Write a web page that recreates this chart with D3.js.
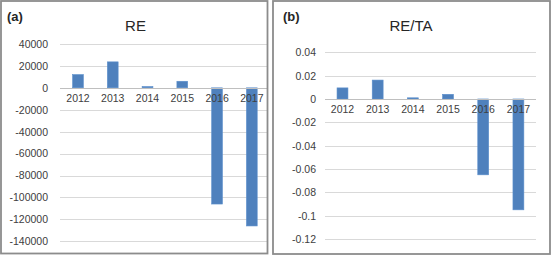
<!DOCTYPE html>
<html><head><meta charset="utf-8">
<script src="https://cdn.jsdelivr.net/npm/d3@7"></script>
<style>
html,body{margin:0;padding:0;background:#fff;}
svg{display:block;font-family:"Liberation Sans",Arial,sans-serif;}
</style></head>
<body><svg id="c" width="552" height="256"></svg>
<script>
const years = ["2012","2013","2014","2015","2016","2017"];
const reValues = [12100, 23700, 1200, 6000, -106000, -126000];
const reTicks = [40000, 20000, 0, -20000, -40000, -60000, -80000, -100000, -120000, -140000];
const retaValues = [0.0095, 0.0162, 0.001, 0.004, -0.065, -0.095];
const retaTicks = [0.04, 0.02, 0, -0.02, -0.04, -0.06, -0.08, -0.1, -0.12];

const svg = d3.select("#c");
const barColor = "#4f81bd";

function panel(cfg){
  const g = svg.append("g");
  const x = d3.scaleBand().domain(years).range(cfg.xr).paddingInner(0.69).paddingOuter(0.345);
  const y = d3.scaleLinear().domain(cfg.dom).range(cfg.yr);
  // gridlines
  g.append("g").selectAll("line").data(cfg.ticks.filter(t=>t!==0)).join("line")
    .attr("x1", cfg.gx[0]).attr("x2", cfg.gx[1])
    .attr("y1", d=>Math.round(y(d))+0.5).attr("y2", d=>Math.round(y(d))+0.5)
    .attr("stroke", "#d9d9d9").attr("stroke-width", 1);
  // y tick labels
  const yAxis = d3.axisLeft(y).tickValues(cfg.ticks).tickSize(0).tickPadding(0)
    .tickFormat(d=>String(+d.toFixed(4)));
  const ya = g.append("g").attr("transform", `translate(${cfg.labelX},0)`).call(yAxis);
  ya.select(".domain").remove();
  ya.selectAll("text").attr("font-size", 10.5).attr("fill", "#404040")
    .attr("font-family", "Liberation Sans, Arial, sans-serif");
  // bars
  g.append("g").selectAll("rect").data(cfg.values).join("rect")
    .attr("x", (d,i)=>x(years[i]))
    .attr("width", x.bandwidth())
    .attr("y", d=>y(Math.max(0,d)))
    .attr("height", d=>Math.abs(y(d)-y(0)))
    .attr("fill", barColor).attr("stroke", "#5b8fcc").attr("stroke-width", 0.6);
  // zero line
  g.append("line").attr("x1", cfg.gx[0]).attr("x2", cfg.gx[1])
    .attr("y1", Math.round(y(0))+0.5).attr("y2", Math.round(y(0))+0.5)
    .attr("stroke", "#bfbfbf").attr("stroke-width", 1);
  // category labels
  const xAxis = d3.axisBottom(x).tickSize(0).tickPadding(0);
  const xa = g.append("g").attr("transform", `translate(0,${y(0)+cfg.catOff})`).call(xAxis);
  xa.select(".domain").remove();
  xa.selectAll("text").attr("font-size", 10.5).attr("fill", "#404040")
    .attr("font-family", "Liberation Sans, Arial, sans-serif");
  // title
  g.append("text").attr("x", cfg.titleX).attr("y", 31).attr("text-anchor","middle")
    .attr("font-size", 15).attr("fill", "#262626").text(cfg.title);
  g.append("text").attr("x", cfg.tagX).attr("y", 21)
    .attr("font-size", 13).attr("font-weight","bold").attr("fill", "#262626").text(cfg.tag);
  // border
  g.append("rect").attr("x", cfg.box[0]).attr("y", cfg.box[1]).attr("width", cfg.box[2]).attr("height", cfg.box[3])
    .attr("fill","none").attr("stroke","#8c8c8c").attr("stroke-width", 1.8);
}

panel({
  values: reValues, ticks: reTicks, dom: [40000, -140000], yr: [44, 241.3],
  xr: [60.6, 269.2], gx: [60, 267], labelX: 48, catOff: 6.5,
  title: "RE", titleX: 135.5, tag: "(a)", tagX: 7,
  box: [1, 1, 266.5, 252.5]
});
panel({
  values: retaValues, ticks: retaTicks, dom: [0.04, -0.12], yr: [52.3, 239],
  xr: [324.9, 536], gx: [325, 536], labelX: 316, catOff: 6.5,
  title: "RE/TA", titleX: 411, tag: "(b)", tagX: 283,
  box: [273, 1, 277, 253]
});
</script></body></html>
